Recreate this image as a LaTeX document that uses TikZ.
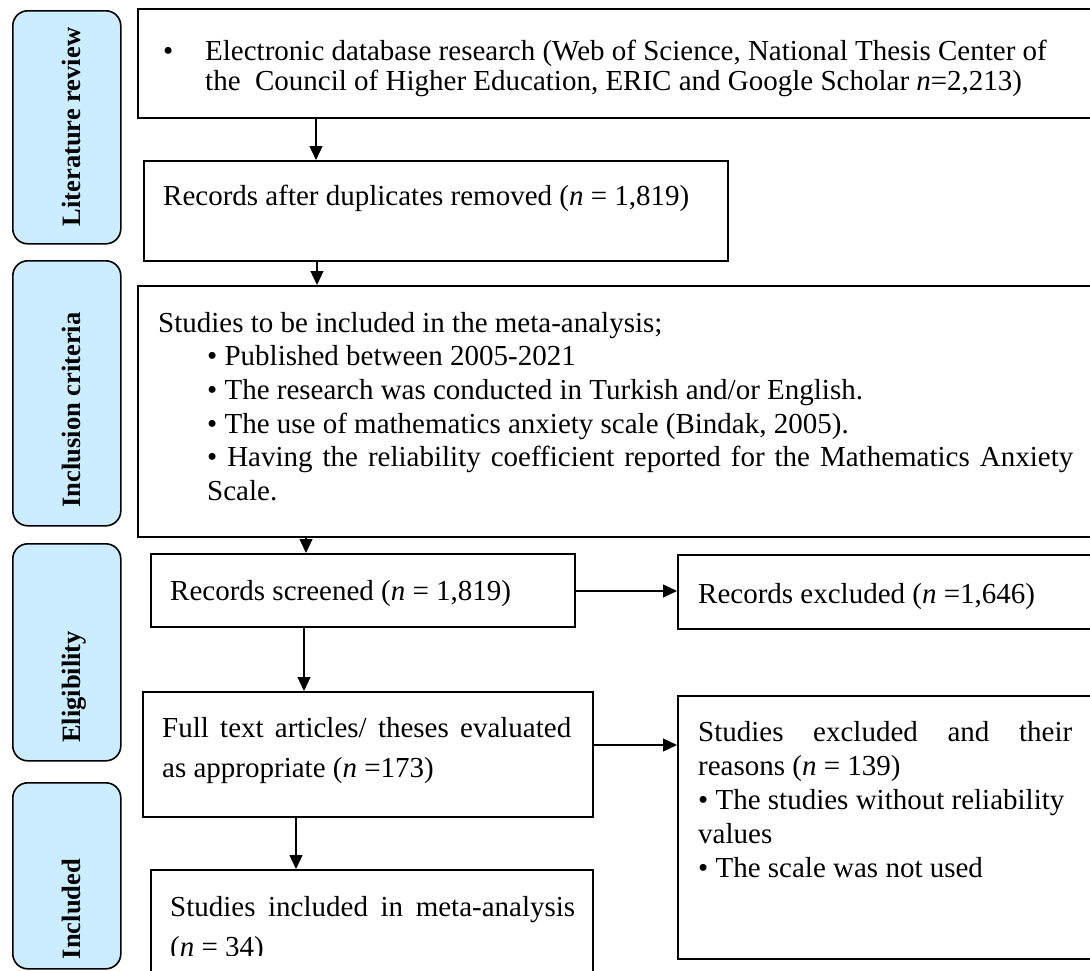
\documentclass[tikz,border=0pt]{standalone}
\usepackage{fontspec}
\setmainfont{Liberation Serif}
\usepackage{tikz}
\usetikzlibrary{positioning,calc,arrows.meta}
\definecolor{SideBlue}{RGB}{204,236,255}
\tikzset{
    flowbox/.style={rectangle, draw=black, line width=1.6pt, fill=white, anchor=north west, inner sep=0pt},
    sidebox/.style={rectangle, rounded corners=15pt, draw=black, line width=1.6pt, fill=SideBlue, anchor=north west, inner sep=0pt, minimum width=108pt},
    sidetext/.style={rotate=90, anchor=base, inner sep=0pt, font=\fontsize{26.5}{30}\selectfont\bfseries},
    boxtext/.style={anchor=north west, inner sep=0pt, align=left, font=\fontsize{29}{34}\selectfont},
    flowarrow/.style={-{Triangle[length=14pt,width=13pt]}, line width=1.2pt, draw=black}
}
\newcommand{\fillline}[2]{\makebox[#1][s]{#2}}

\begin{document}
\begin{tikzpicture}[
        x=1pt, y=-1pt,
        % Style cho text hop 1 (dong sat hon)
        toptext/.style={boxtext, font=\fontsize{29}{30}\selectfont},
        % Style cho hop 6 va 8 (dong cach rong)
        widetext/.style={boxtext, font=\fontsize{29}{40}\selectfont}
    ]
        \useasboundingbox (0,0) rectangle (1090,970);
        \clip (0,0) rectangle (1090,970);

        % --- CAC HOP BEN TRAI ---
        \node[sidebox, minimum height=233pt] (litbox) at (12,10) {};
        \node[sidebox, minimum height=265pt] (incbox) at (12,260) {};
        \node[sidebox, minimum height=217pt] (elibox) at (12,543) {};
        \node[sidebox, minimum height=186pt] (inclbox) at (12,782) {};

        \node[sidetext] (litlabel) at (80,127) {Literature review};
        \node[sidetext] (inclabel) at (80,410) {Inclusion criteria};
        \node[sidetext] (elilabel) at (80,687) {Eligibility};
        \node[sidetext] (incllabel) at (80,909) {Included};

        % --- CAC HOP CHINH ---
        \node[flowbox, minimum width=963pt, minimum height=109pt] (b1) at (137,8) {};
        \node[flowbox, minimum width=584pt, minimum height=100pt] (b2) at (143,160) {};
        \node[flowbox, minimum width=963pt, minimum height=251pt] (b3) at (137,285) {};
        \node[flowbox, minimum width=424pt, minimum height=73pt] (b4) at (150,553) {};
        \node[flowbox, minimum width=423pt, minimum height=74pt] (b5) at (677,554) {};
        \node[flowbox, minimum width=450pt, minimum height=125pt] (b6) at (142,691) {};
        \node[flowbox, minimum width=423pt, minimum height=263pt] (b7) at (677,695) {};
        \node[flowbox, minimum width=442pt, minimum height=150pt] (b8) at (150,869) {};

        % --- NOI DUNG ---
        \node[toptext] (t1) at (163,39) {\strut\makebox[42pt][l]{•}Electronic database research (Web of Science, National Thesis Center of\\
            \hspace*{42pt}the\ \ Council of Higher Education, ERIC and Google Scholar \textit{n}=2,213)};
        \node[boxtext] (t2) at (163,181) {\strut Records after duplicates removed (\textit{n} = 1,819)};
        \node[boxtext, font=\fontsize{29}{33.6}\selectfont] (t3) at (158,308.5) {\strut Studies to be included in the meta-analysis;\\
            \hspace*{49pt}• Published between 2005-2021\\
            \hspace*{49pt}• The research was conducted in Turkish and/or English.\\
            \hspace*{49pt}• The use of mathematics anxiety scale (Bindak, 2005).\\
            \hspace*{49pt}\fillline{866pt}{• Having the reliability coefficient reported for the Mathematics Anxiety}\\
            \hspace*{49pt}Scale.};
        \node[boxtext] (t4) at (170,576) {\strut Records screened (\textit{n} = 1,819)};
        \node[boxtext] (t5) at (698,579) {\strut Records excluded (\textit{n} =1,646)};
        \node[widetext] (t6) at (162,709) {\strut\fillline{409pt}{Full text articles/ theses evaluated}\\
            as appropriate (\textit{n} =173)};
        \node[boxtext] (t7) at (698,717) {\strut\fillline{374pt}{Studies excluded and their}\\
            reasons (\textit{n} = 139)\\
            • The studies without reliability\\
            values\\
            • The scale was not used};
        \begin{scope}
            \clip (0,0) rectangle (1090,955);
            \node[widetext] (t8) at (170,888) {\strut\fillline{405pt}{Studies included in meta-analysis}\\
                (\textit{n} = 34)};
        \end{scope}

        % --- MUI TEN ---
        \draw[flowarrow] (b1.south -| 316,0) -- (b2.north -| 316,0);
        \draw[flowarrow] (b2.south -| 317,0) -- (b3.north -| 317,0);
        \draw[flowarrow] (b3.south -| 306,0) -- (b4.north -| 306,0);
        \draw[flowarrow] (b4.east |- 0,591) -- (b5.west |- 0,591);
        \draw[flowarrow] (b4.south -| 304,0) -- (b6.north -| 304,0);
        \draw[flowarrow] (b6.east |- 0,745) -- (b7.west |- 0,745);
        \draw[flowarrow] (b6.south -| 296,0) -- (b8.north -| 296,0);

    \end{tikzpicture}
\end{document}
